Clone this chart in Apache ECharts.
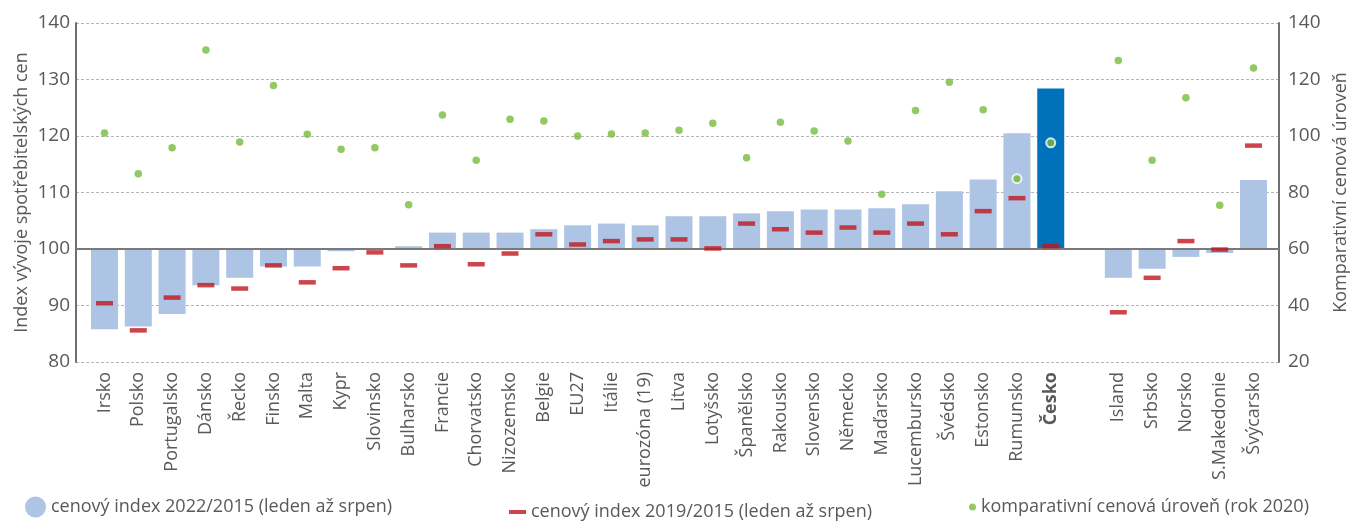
<!DOCTYPE html>
<html lang="cs">
<head>
  <meta charset="UTF-8">
  <title>Cenové indexy</title>
  <style>
    html, body { margin: 0; padding: 0; background: #fff; }
    #chart { width: 1362px; height: 524px; }
  </style>
  <script src="https://cdn.jsdelivr.net/npm/echarts@6/dist/echarts.min.js"></script>
</head>
<body>
  <div id="chart"></div>
  <script>
    // kategorie (prázdná položka = mezera mezi Českem a zeměmi mimo EU)
    var categories = ['Irsko', 'Polsko', 'Portugalsko', 'Dánsko', 'Řecko', 'Finsko', 'Malta', 'Kypr',
      'Slovinsko', 'Bulharsko', 'Francie', 'Chorvatsko', 'Nizozemsko', 'Belgie', 'EU27', 'Itálie',
      'eurozóna (19)', 'Litva', 'Lotyšsko', 'Španělsko', 'Rakousko', 'Slovensko', 'Německo', 'Maďarsko',
      'Lucembursko', 'Švédsko', 'Estonsko', 'Rumunsko', 'Česko', '', 'Island', 'Srbsko', 'Norsko',
      'S.Makedonie', 'Švýcarsko'];

    // cenový index 2022/2015 (levá osa)
    var index2022 = [85.8, 86.3, 88.5, 93.6, 94.9, 96.9, 96.9, 99.6, 99.9, 100.5, 102.9, 102.9,
      102.9, 103.5, 104.2, 104.5, 104.2, 105.8, 105.8, 106.3, 106.7, 107.0, 107.0, 107.2,
      107.9, 110.2, 112.3, 120.5, 128.4, null, 94.9, 96.5, 98.6, 99.3, 112.2];

    // cenový index 2019/2015 (levá osa)
    var index2019 = [90.4, 85.6, 91.4, 93.6, 93.0, 97.1, 94.1, 96.6, 99.4, 97.1, 100.5, 97.3,
      99.2, 102.6, 100.8, 101.4, 101.7, 101.7, 100.1, 104.5, 103.5, 102.9, 103.8, 102.9,
      104.5, 102.6, 106.7, 109.0, 100.5, null, 88.8, 94.9, 101.4, 99.9, 118.3];

    // komparativní cenová úroveň 2020 (pravá osa)
    var priceLevel = [101.1, 86.6, 95.8, 130.4, 97.9, 117.9, 100.6, 95.3, 95.8, 75.7, 107.4, 91.4,
      105.9, 105.3, 100.0, 100.7, 101.1, 102.0, 104.5, 92.3, 104.9, 101.8, 98.2, 79.4,
      109.0, 119.0, 109.3, 84.9, 97.6, null, 126.7, 91.4, 113.5, 75.5, 124.1];

    var leftTicks = [80, 140, 10];
    var rightTicks = [20, 140, 20];
    var baseValue = 100;
    var highlight = 'Česko';
    var outlined = ['Rumunsko', 'Česko'];

    var txt = '#595959';
    var font = 'Open Sans';
    var names = ['cenový index 2022/2015 (leden až srpen)',
      'cenový index 2019/2015 (leden až srpen)',
      'komparativní cenová úroveň (rok 2020)'];

    var chart = echarts.init(document.getElementById('chart'));

    // sloupce rostou od hodnoty 100, proto vlastní vykreslení
    var barData = [];
    index2022.forEach(function (v, i) {
      if (v == null) return;
      if (categories[i] === highlight) {
        barData.push({ value: [i, v], itemStyle: { color: '#0071bb' } });
      } else {
        barData.push([i, v]);
      }
    });
    var dotData = priceLevel.map(function (v, i) {
      if (outlined.indexOf(categories[i]) >= 0) {
        return { value: v, symbolSize: 9, itemStyle: { borderColor: '#fff', borderWidth: 2 } };
      }
      return v;
    });

    function renderBar(params, api) {
      var x = api.value(0);
      var top = api.coord([x, api.value(1)]);
      var base = api.coord([x, baseValue]);
      var w = 27;
      return {
        type: 'rect',
        shape: { x: top[0] - w / 2, y: Math.min(top[1], base[1]), width: w, height: Math.abs(base[1] - top[1]) },
        style: { fill: api.visual('color') }
      };
    }

    var legendText = { fontFamily: font, fontSize: 18, color: txt, lineHeight: 22 };

    var option = {
      animation: false,
      textStyle: { fontFamily: font, color: txt },
      grid: [
        // rám: osy a mřížka
        { left: 76, right: 83, top: 23, bottom: 162, outerBoundsMode: 'none' },
        // data
        { left: 87.6, right: 91.6, top: 23, bottom: 162, outerBoundsMode: 'none' }
      ],
      legend: [
        {
          left: 25, top: 496, padding: 0, itemWidth: 21, itemHeight: 21, selectedMode: false,
          textStyle: legendText,
          data: [{ name: names[0], icon: 'circle' }]
        },
        {
          left: 509, top: 501, padding: 0, itemWidth: 17, itemHeight: 4, selectedMode: false,
          textStyle: legendText,
          data: [{ name: names[1], icon: 'rect' }]
        },
        {
          left: 969, top: 496, padding: 0, itemWidth: 7, itemHeight: 7, selectedMode: false,
          textStyle: legendText,
          data: [{ name: names[2], icon: 'circle' }]
        }
      ],
      xAxis: [
        { type: 'value', gridIndex: 0, min: 0, max: 1, show: false },
        {
          type: 'category', gridIndex: 1, data: categories,
          axisLine: { show: false }, axisTick: { show: false },
          axisLabel: {
            interval: 0, rotate: 90, margin: 10, fontSize: 18, color: txt, fontFamily: font,
            formatter: function (v) { return v === highlight ? '{b|' + v + '}' : v; },
            rich: { b: { fontWeight: 'bold', fontSize: 18, color: txt, fontFamily: font } }
          }
        }
      ],
      yAxis: [
        {
          type: 'value', gridIndex: 0, position: 'left',
          min: leftTicks[0], max: leftTicks[1], interval: leftTicks[2],
          name: 'Index vývoje spotřebitelských cen', nameLocation: 'middle', nameGap: 45,
          nameRotate: 90, nameMoveOverlap: false,
          nameTextStyle: { fontSize: 18, color: txt, fontFamily: font },
          axisLine: { show: true, lineStyle: { color: '#6f6f6f', width: 2 } },
          axisTick: { show: false },
          axisLabel: { fontSize: 19, color: txt, margin: 6, fontFamily: font },
          splitLine: { show: true, lineStyle: { color: '#b5b5b5', width: 1, type: [3, 2] } }
        },
        {
          type: 'value', gridIndex: 0, position: 'right',
          min: rightTicks[0], max: rightTicks[1], interval: rightTicks[2],
          name: 'Komparativní cenová úroveň', nameLocation: 'middle', nameGap: 53,
          nameRotate: 90, nameMoveOverlap: false,
          nameTextStyle: { fontSize: 18, color: txt, fontFamily: font },
          axisLine: { show: true, lineStyle: { color: '#6f6f6f', width: 2 } },
          axisTick: { show: false },
          axisLabel: { fontSize: 19, color: txt, margin: 9, fontFamily: font },
          splitLine: { show: false }
        },
        {
          type: 'value', gridIndex: 1, show: false,
          min: leftTicks[0], max: leftTicks[1], interval: leftTicks[2]
        },
        {
          type: 'value', gridIndex: 1, show: false, position: 'right',
          min: rightTicks[0], max: rightTicks[1], interval: rightTicks[2]
        }
      ],
      series: [
        {
          // základní čára 100
          name: 'base', type: 'scatter', xAxisIndex: 0, yAxisIndex: 0, data: [],
          silent: true, z: 4,
          markLine: {
            silent: true, symbol: 'none', label: { show: false },
            lineStyle: { color: '#7a7a7a', width: 2, type: 'solid' },
            data: [{ yAxis: baseValue }]
          }
        },
        {
          name: names[0], type: 'custom', xAxisIndex: 1, yAxisIndex: 2,
          renderItem: renderBar, data: barData, encode: { x: 0, y: 1 },
          itemStyle: { color: '#aec4e5' }, z: 2
        },
        {
          name: names[1], type: 'scatter', xAxisIndex: 1, yAxisIndex: 2,
          data: index2019, symbol: 'rect', symbolSize: [17, 4.5],
          itemStyle: { color: '#c0161e' }, z: 5
        },
        {
          name: names[2], type: 'scatter', xAxisIndex: 1, yAxisIndex: 3,
          data: dotData, symbol: 'circle', symbolSize: 7.5,
          itemStyle: { color: '#76bc3c' }, z: 6
        }
      ]
    };
    chart.setOption(option);
  </script>
</body>
</html>
